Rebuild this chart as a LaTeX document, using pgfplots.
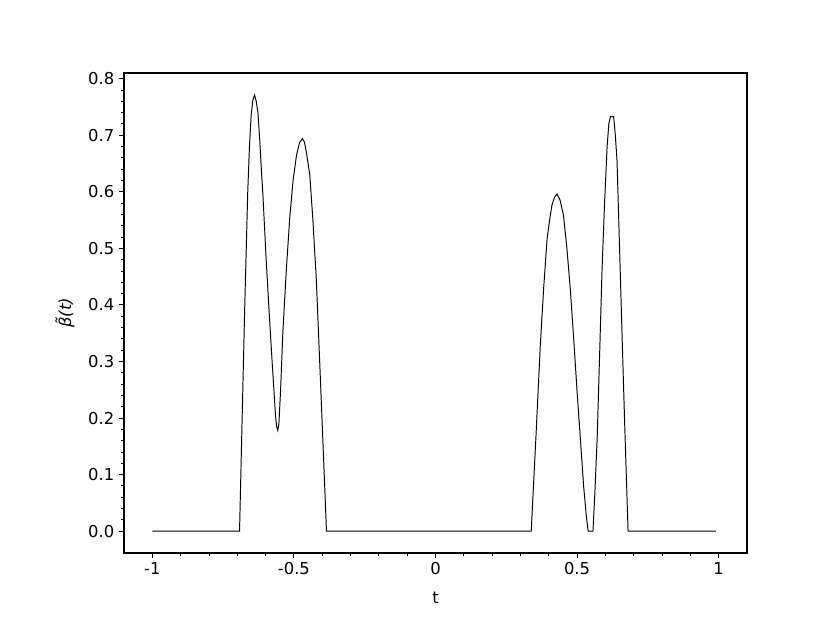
\documentclass[border=0pt]{standalone}
\usepackage{fontspec}
\setmainfont{DejaVu Sans}
\usepackage{pgfplots}
\pgfplotsset{compat=1.18}

\begin{document}
\begin{tikzpicture}
\begin{axis}[
  scale only axis,
  width=448.56pt, height=345.6pt,
  xmin=-1.1, xmax=1.1,
  ymin=-0.0386, ymax=0.81,
  xtick={-1,-0.5,0,0.5,1},
  xticklabels={-1,-0.5,0,0.5,1},
  ytick={0,0.1,...,0.8},
  minor x tick num=4,
  minor y tick num=4,
  tick align=outside,
  xtick pos=left, ytick pos=left,
  major tick length=3.5pt,
  minor tick length=2pt,
  every tick/.style={black,line width=0.6pt},
  axis line style={line width=0.8pt},
  yticklabel style={/pgf/number format/.cd,fixed,fixed zerofill,precision=1,assume math mode=true},
  tick label style={font=\fontsize{11.8}{14}\selectfont},
  label style={font=\fontsize{11.8}{14}\selectfont},
  xlabel={t},
  ylabel={{\itshape β\char"0303(t)}},
  xlabel style={yshift=-5pt},
  ylabel style={yshift=3pt},
]
\addplot[black,line width=0.7pt] coordinates {
  (-1.000,0) (-0.692,0)
  (-0.674,0.39) (-0.663,0.60) (-0.657,0.68) (-0.651,0.735) (-0.645,0.762)
  (-0.639,0.771) (-0.633,0.76) (-0.627,0.74) (-0.621,0.694) (-0.615,0.64)
  (-0.609,0.59) (-0.598,0.48) (-0.586,0.375) (-0.577,0.30) (-0.570,0.245)
  (-0.565,0.205) (-0.561,0.185) (-0.557,0.178) (-0.553,0.19) (-0.547,0.25)
  (-0.539,0.352)
  (-0.527,0.46) (-0.515,0.552) (-0.503,0.62) (-0.491,0.664) (-0.480,0.687)
  (-0.470,0.694) (-0.463,0.688) (-0.456,0.67) (-0.444,0.63) (-0.433,0.55)
  (-0.421,0.446) (-0.409,0.30) (-0.397,0.151) (-0.385,0)
  (0.338,0)
  (0.354,0.16) (0.370,0.328) (0.382,0.43) (0.394,0.517) (0.403,0.55)
  (0.411,0.576) (0.420,0.59) (0.429,0.596) (0.440,0.585) (0.452,0.558)
  (0.464,0.50) (0.476,0.428) (0.488,0.34) (0.500,0.246) (0.512,0.16)
  (0.523,0.080) (0.533,0.025) (0.539,0) (0.556,0)
  (0.563,0.07) (0.571,0.166) (0.580,0.32) (0.588,0.461) (0.597,0.58)
  (0.606,0.68) (0.612,0.72) (0.618,0.733) (0.629,0.733) (0.635,0.70)
  (0.641,0.655) (0.650,0.50) (0.659,0.343) (0.668,0.19) (0.677,0.048)
  (0.680,0) (0.990,0)
};
\end{axis}
\path ([xshift=-89.28pt,yshift=-50.4pt]current axis.south west)
  rectangle ([xshift=59.76pt,yshift=52.56pt]current axis.north east);
\end{tikzpicture}
\end{document}
